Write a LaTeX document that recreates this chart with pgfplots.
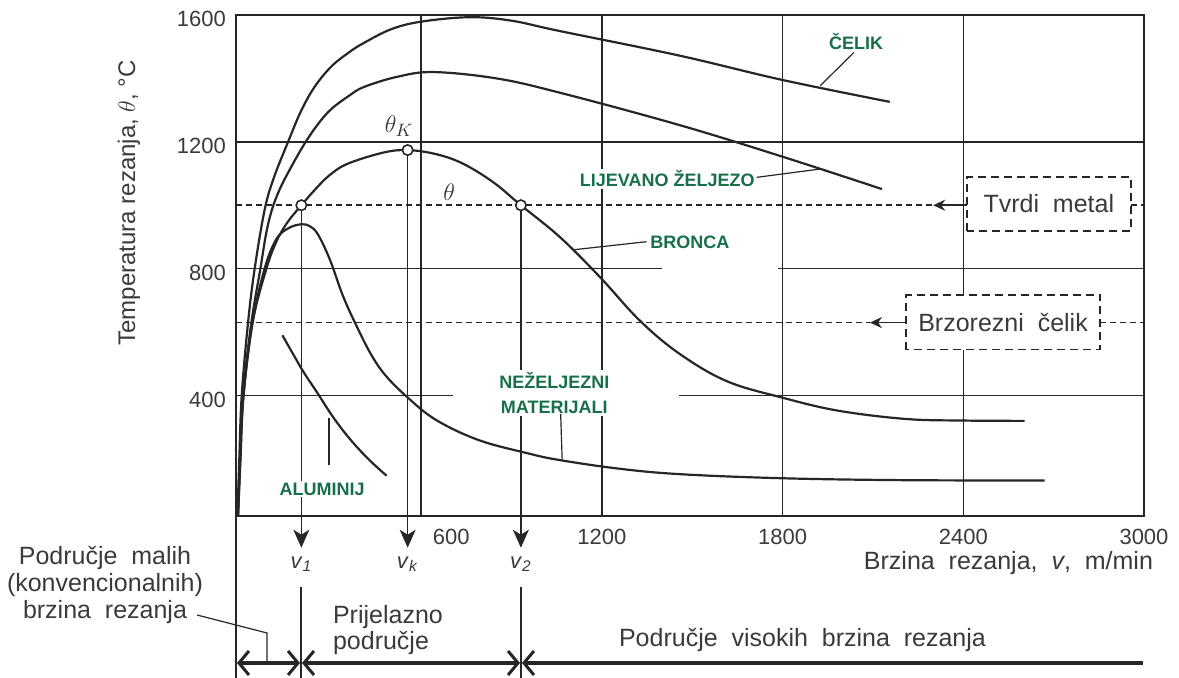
\documentclass[border=0pt]{standalone}
\usepackage{fontspec}
\setmainfont{Liberation Sans}
\usepackage{pgfplots}
\pgfplotsset{compat=1.18}
\usetikzlibrary{arrows.meta}
\definecolor{lab}{RGB}{24,112,74}
\definecolor{ink}{RGB}{38,38,38}
\definecolor{txt}{RGB}{58,58,58}
\begin{document}
\begin{tikzpicture}[
  font=\fontsize{12.5}{15}\selectfont,
  grd/.style={ink, line width=0.75pt},
  crv/.style={ink, line width=1.1pt, smooth, tension=0.6, no markers},
  dsh/.style={ink, line width=0.8pt, dash pattern=on 3pt off 2pt},
  box/.style={ink, line width=0.9pt, dash pattern=on 4pt off 2.5pt, fill=white},
  glab/.style={text=lab, font=\fontsize{9}{12.5}\selectfont\bfseries, fill=white, inner sep=1pt},
  lead/.style={ink, line width=0.6pt},
]
\path[use as bounding box] (-118pt,-81pt) rectangle (471.5pt,258pt);
\begin{axis}[
  at={(0pt,0pt)}, anchor=south west,
  scale only axis, width=454pt, height=250.5pt,
  xmin=-15, xmax=3000, ymin=20, ymax=1600,
  xtick={600,1200,1800,2400,3000},
  xticklabels={\hspace*{30pt}600,1200,1800,2400,3000},
  ytick={400,800,1200,1600},
  yticklabels={400,800,1200,1600},
  major tick length=0pt,
  tick label style={font=\fontsize{11}{13}\selectfont, text=txt},
  xticklabel style={yshift=-3pt},
  yticklabel style={xshift=-1.5pt, yshift=-2pt},
  axis line style={ink, line width=1pt},
  clip=false,
]
% grid
\draw[grd] (axis cs:600,20) -- (axis cs:600,1600);
\draw[grd] (axis cs:1200,20) -- (axis cs:1200,1600);
\draw[grd] (axis cs:1800,20) -- (axis cs:1800,1600);
\draw[grd] (axis cs:2400,20) -- (axis cs:2400,1600);
\draw[grd] (axis cs:-15,1200) -- (axis cs:3000,1200);
\draw[grd] (axis cs:-15,800) -- (axis cs:1398,800);
\draw[grd] (axis cs:1784,800) -- (axis cs:3000,800);
\draw[grd] (axis cs:-15,400) -- (axis cs:706,400);
\draw[grd] (axis cs:1457,400) -- (axis cs:3000,400);
% dashed reference lines
\draw[dsh] (axis cs:-15,1000) -- (axis cs:2300,1000);
\draw[dsh] (axis cs:2957,1000) -- (axis cs:3000,1000);
\draw[dsh] (axis cs:-15,630) -- (axis cs:2090,630);
\draw[dsh] (axis cs:2854,630) -- (axis cs:3000,630);
% boxes
\draw[box] (axis cs:2412,920) rectangle (axis cs:2957,1090);
\node[text=txt] at (axis cs:2684,1005) {Tvrdi\ \ metal};
\draw[box] (axis cs:2210,545) rectangle (axis cs:2854,717);
\node[text=txt] at (axis cs:2532,631) {Brzorezni\ \ čelik};
\draw[ink, line width=0.9pt, -{Stealth[length=6pt,width=5.5pt]}] (axis cs:2412,1000) -- (axis cs:2300,1000);
\draw[ink, line width=0.9pt, -{Stealth[length=6pt,width=5.5pt]}] (axis cs:2210,630) -- (axis cs:2090,630);
% v1, vk, v2 lines with arrows
\draw[ink, line width=0.75pt, -{Stealth[length=9pt,width=8pt,inset=2.5pt]}] (axis cs:202,1000) -- (axis cs:202,-80);
\draw[ink, line width=0.75pt, -{Stealth[length=9pt,width=8pt,inset=2.5pt]}] (axis cs:555,1174) -- (axis cs:555,-80);
\draw[ink, line width=0.75pt, -{Stealth[length=9pt,width=8pt,inset=2.5pt]}] (axis cs:931,1000) -- (axis cs:931,-80);
\node[text=txt, font=\fontsize{11}{13}\selectfont] at (axis cs:202,-132) {\textit{v}\textsubscript{\textit{1}}};
\node[text=txt, font=\fontsize{11}{13}\selectfont] at (axis cs:555,-132) {\textit{v}\textsubscript{\textit{k}}};
\node[text=txt, font=\fontsize{11}{13}\selectfont] at (axis cs:931,-132) {\textit{v}\textsubscript{\textit{2}}};
% curves
% CELIK
\addplot[crv] coordinates {(-10,22) (-4,200) (4,400) (25,630) (47,800) (80,985) (110,1085) (158,1200) (200,1295) (245,1372) (301,1437) (360,1482) (410,1512) (500,1555) (600,1579) (761,1593) (900,1582) (1057,1550) (1457,1472) (1800,1395) (2156,1326)};
% LIJEVANO ZELJEZO
\addplot[crv] coordinates {(-9,22) (-2,200) (8,400) (36,630) (66,800) (85,910) (104,985) (130,1050) (165,1115) (210,1190) (255,1253) (301,1303) (360,1345) (410,1373) (520,1405) (640,1420) (850,1400) (1060,1355) (1457,1253) (1800,1153) (2130,1051)};
% BRONCA
\addplot[crv] coordinates {(-8,22) (-1,200) (10,400) (40,630) (86,800) (119,885) (155,945) (202,1000) (250,1052) (296,1095) (356,1131) (474,1166) (555,1174) (650,1161) (739,1131) (840,1072) (931,1000) (1060,900) (1193,774) (1325,637) (1457,532) (1615,445) (1800,393) (1985,352) (2209,326) (2400,321) (2604,320)};
% NEZELJEZNI MATERIJALI
\addplot[crv] coordinates {(-8,22) (0,200) (10,400) (40,630) (80,800) (119,893) (160,928) (202,940) (230,934) (257,908) (297,828) (341,712) (390,610) (435,527) (480,465) (550,398) (649,323) (792,259) (957,217) (1056,197) (1250,170) (1457,152) (1800,139) (2200,133) (2670,132)};
% ALUMINIJ
\addplot[crv] coordinates {(139,590) (175,530) (210,473) (254,410) (298,345) (340,290) (386,238) (435,190) (485,147)};
% labels
\node[glab] at (axis cs:2044,1516) {ČELIK};
\draw[lead] (axis cs:2037,1482) -- (axis cs:1925,1377);
\node[glab] at (axis cs:1417,1083) {LIJEVANO ŽELJEZO};
\draw[lead] (axis cs:1714,1088) -- (axis cs:1930,1115);
\node[glab] at (axis cs:1492,882) {BRONCA};
\draw[lead] (axis cs:1348,885) -- (axis cs:1110,860);
\node[glab, align=center] at (axis cs:1042,408) {NEŽELJEZNI\\MATERIJALI};
\draw[lead] (axis cs:1063,342) -- (axis cs:1068,198);
\node[glab] at (axis cs:271,105) {ALUMINIJ};
\draw[lead] (axis cs:294,330) -- (axis cs:294,180);
\node[text=txt, font=\fontsize{13}{15}\selectfont] at (axis cs:527,1250) {$\theta_K$};
\node[text=txt, font=\fontsize{13}{15}\selectfont] at (axis cs:693,1040) {$\theta$};
% markers
\addplot[only marks, mark=*, mark size=2.6pt, mark options={fill=white, draw=ink, line width=0.8pt}] coordinates {(202,1000) (555,1174) (931,1000)};
\end{axis}
\begin{scope}[x=0.5pt,y=-0.5pt,shift={(-118pt,258pt)}]
\draw[ink, line width=0.75pt] (236,516) -- (236,678);
\draw[ink, line width=0.75pt] (301,587) -- (301,678);
\draw[ink, line width=0.75pt] (521,587) -- (521,678);
\draw[ink, line width=2.2pt, {Straight Barb[length=5pt,width=12pt,line width=1.5pt]}-{Straight Barb[length=5pt,width=12pt,line width=1.5pt]}] (237,663) -- (300,663);
\draw[ink, line width=2.2pt, {Straight Barb[length=5pt,width=12pt,line width=1.5pt]}-{Straight Barb[length=5pt,width=12pt,line width=1.5pt]}] (302,663) -- (520,663);
\draw[ink, line width=2.2pt, {Straight Barb[length=5pt,width=12pt,line width=1.5pt]}-] (522,663) -- (1143,663);
\draw[lead] (197,615) -- (267,633) -- (267,663);
\node[text=txt, align=center, font=\fontsize{12.5}{13.5}\selectfont] at (105,585) {Područje\ \ malih\\(konvencionalnih)\\brzina\ \ rezanja};
\node[text=txt, align=left, anchor=west, font=\fontsize{12.5}{13}\selectfont] at (326,630) {Prijelazno\\područje};
\node[text=txt, anchor=west] at (612,640) {Područje\ \ visokih\ \ brzina\ \ rezanja};
\node[text=txt, anchor=east] at (1160,563) {Brzina\ \ rezanja,\ \ \textit{v},\ \ m/min};
\node[text=txt, rotate=90, font=\fontsize{12}{14}\selectfont] at (129,203) {Temperatura rezanja, $\theta$, °C};
\end{scope}
\end{tikzpicture}
\end{document}
